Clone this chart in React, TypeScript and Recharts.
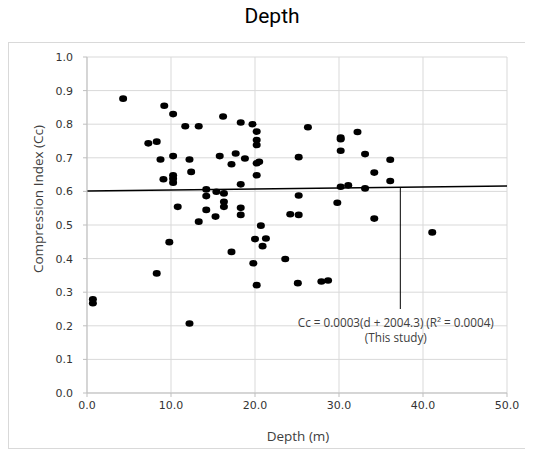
import React from 'react';
import {
  ScatterChart,
  Scatter,
  XAxis,
  YAxis,
  CartesianGrid,
  ReferenceLine,
  ReferenceDot,
} from 'recharts';

// depth (m) and compression index
const depths = [
  0.7, 0.7, 4.3, 7.3, 8.3, 8.3, 8.75, 9.1, 9.2, 9.8,
  10.25, 10.25, 10.25, 10.25, 10.25, 10.8, 11.7, 12.2, 12.2, 12.4,
  13.3, 13.3, 14.2, 14.2, 14.2, 15.3, 15.4, 15.8, 16.2, 16.3,
  16.3, 16.3, 17.2, 17.2, 17.7, 18.3, 18.3, 18.3, 18.3, 18.8,
  19.7, 19.8, 20.0, 20.2, 20.2, 20.2, 20.2, 20.5, 20.2, 20.2,
  20.7, 20.9, 21.3, 23.6, 24.2, 25.1, 25.2, 25.2, 25.2, 26.3,
  27.9, 28.7, 29.8, 30.2, 30.2, 30.2, 30.2, 31.1, 32.2, 33.1,
  33.1, 34.2, 34.2, 36.1, 36.1, 41.1,
];
const ccValues = [
  0.279, 0.267, 0.876, 0.743, 0.748, 0.356, 0.695, 0.636, 0.855, 0.449,
  0.83, 0.705, 0.648, 0.638, 0.626, 0.554, 0.794, 0.695, 0.207, 0.658,
  0.794, 0.51, 0.606, 0.586, 0.545, 0.525, 0.599, 0.705, 0.823, 0.594,
  0.569, 0.554, 0.681, 0.42, 0.713, 0.805, 0.621, 0.551, 0.53, 0.698,
  0.8, 0.386, 0.458, 0.778, 0.753, 0.738, 0.684, 0.688, 0.648, 0.321,
  0.498, 0.437, 0.46, 0.399, 0.532, 0.327, 0.702, 0.588, 0.53, 0.791,
  0.332, 0.335, 0.566, 0.76, 0.755, 0.721, 0.614, 0.618, 0.777, 0.711,
  0.609, 0.656, 0.519, 0.694, 0.631, 0.478,
];

const xTicks = [0, 10, 20, 30, 40, 50];
const yTicks = [0, 0.1, 0.2, 0.3, 0.4, 0.5, 0.6, 0.7, 0.8, 0.9, 1.0];

// Cc = 0.0003(d + 2004.3)
const slope = 0.0003;
const shift = 2004.3;
const pointerDepth = 37.3;
const pointerBottom = 0.25;

const fit = (d: number) => slope * (d + shift);

const points = depths.map((d, i) => ({ x: d, y: ccValues[i] }));

const Dot = (props: any) => (
  <ellipse cx={props.cx} cy={props.cy} rx={4} ry={3.3} fill="#000" />
);

const Note = (props: any) => {
  const vb = props.viewBox || {};
  const cx = (vb.x || 0) + (vb.width || 0) / 2 - 4.5;
  const cy = (vb.y || 0) + (vb.height || 0) / 2;
  return (
    <g fontFamily="'Open Sans', sans-serif" fontSize={11.7} fill="#404040" textAnchor="middle">
      <text x={cx} y={cy + 18}>Cc = 0.0003(d + 2004.3) (R² = 0.0004)</text>
      <text x={cx} y={cy + 33}>(This study)</text>
    </g>
  );
};

const tickStyle = { fontFamily: "'DejaVu Sans', sans-serif", fontSize: 11, fill: '#333' };

export default function App() {
  return (
    <div style={{ position: 'relative', width: 533, height: 459, margin: -8, background: '#fff' }}>
      <div
        style={{
          position: 'absolute', left: 0, top: 6, width: 544, textAlign: 'center',
          fontFamily: 'Roboto, sans-serif', fontSize: 21, lineHeight: '21px', color: '#000',
        }}
      >
        Depth
      </div>
      <div
        style={{
          position: 'absolute', left: 8, top: 42, width: 516, height: 405,
          border: '1px solid #d9d9d9',
        }}
      />
      <div
        style={{
          position: 'absolute', left: 38, top: 199, transform: 'translate(-50%, -50%) rotate(-90deg)',
          whiteSpace: 'nowrap', fontFamily: "'Open Sans', sans-serif", fontSize: 13.5, color: '#404040',
        }}
      >
        Compression Index (Cc)
      </div>
      <div
        style={{
          position: 'absolute', left: 298, top: 436, transform: 'translate(-50%, -50%)',
          whiteSpace: 'nowrap', fontFamily: "'Open Sans', sans-serif", fontSize: 13.5, color: '#404040',
        }}
      >
        Depth (m)
      </div>
      <div style={{ position: 'absolute', left: 0, top: 0 }}>
        <ScatterChart width={533} height={459} margin={{ top: 57, right: 26, bottom: 36, left: 0 }}>
          <CartesianGrid stroke="#d9d9d9" />
          <XAxis
            type="number"
            dataKey="x"
            domain={[0, 50]}
            ticks={xTicks}
            tickFormatter={(v: number) => v.toFixed(1)}
            stroke="#bfbfbf"
            tickSize={4}
            tickMargin={4}
            height={30}
            tick={tickStyle}
            interval={0}
          />
          <YAxis
            type="number"
            dataKey="y"
            domain={[0, 1]}
            ticks={yTicks}
            tickFormatter={(v: number) => v.toFixed(1)}
            stroke="#bfbfbf"
            tickSize={4}
            tickMargin={10}
            width={87}
            tick={tickStyle}
            interval={0}
          />
          <ReferenceLine
            segment={[{ x: 0, y: fit(0) }, { x: 50, y: fit(50) }]}
            stroke="#000"
            strokeWidth={1.6}
          />
          <ReferenceLine
            segment={[{ x: pointerDepth, y: fit(pointerDepth) }, { x: pointerDepth, y: pointerBottom }]}
            stroke="#000"
            strokeWidth={1}
          />
          <Scatter data={points} fill="#000" shape={Dot} isAnimationActive={false} />
          <ReferenceDot x={pointerDepth} y={pointerBottom} r={0} stroke="none" label={Note} />
        </ScatterChart>
      </div>
    </div>
  );
}
